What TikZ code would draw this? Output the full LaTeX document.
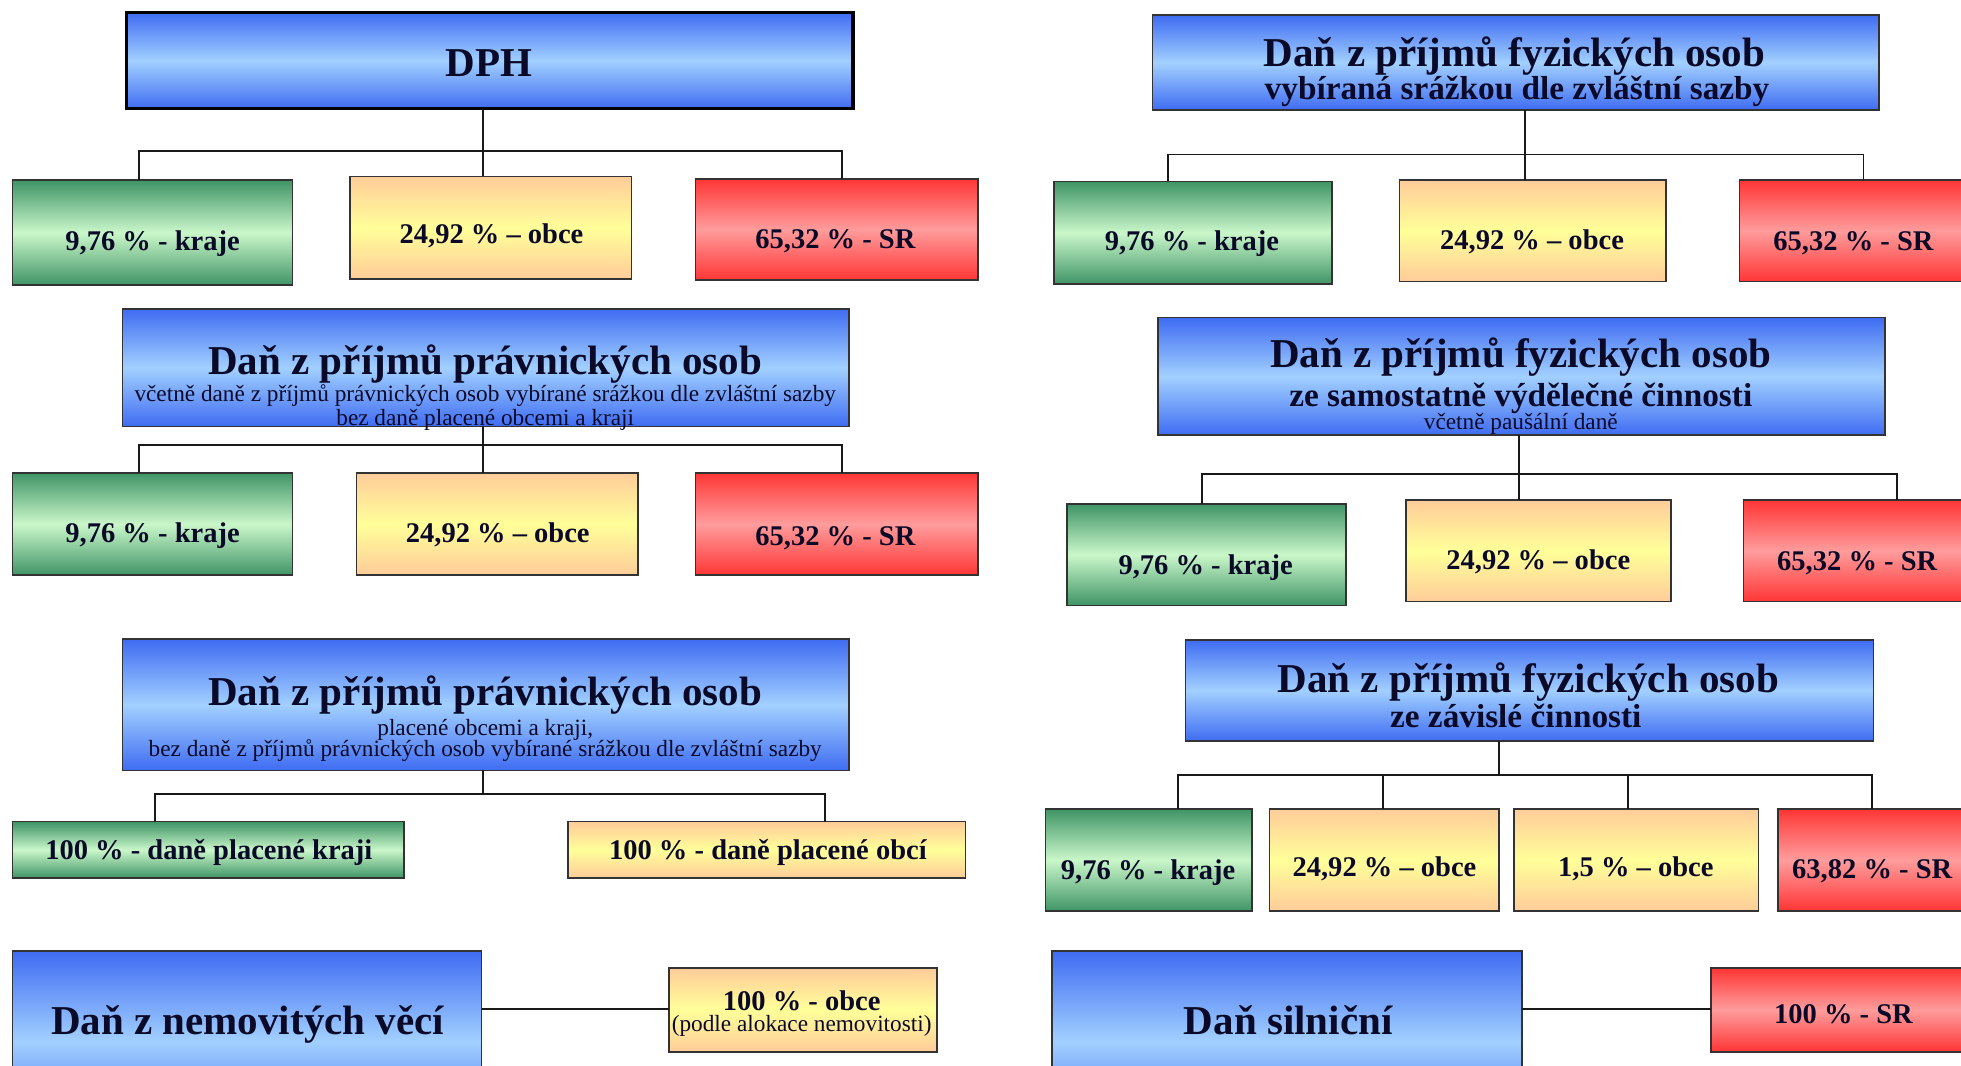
\documentclass[tikz,border=0pt]{standalone}
\usepackage{fontspec}
\setmainfont{Liberation Serif}
\definecolor{bTop}{HTML}{3F6CF2}
\definecolor{bMid}{HTML}{A2D0FF}
\definecolor{gTop}{HTML}{3F9466}
\definecolor{gMid}{HTML}{CAF7CA}
\definecolor{oTop}{HTML}{FFCC99}
\definecolor{oMid}{HTML}{FFFF99}
\definecolor{rTop}{HTML}{FF3535}
\definecolor{rMid}{HTML}{FF9C9C}
\definecolor{ink}{HTML}{0A0A28}
\newcommand\drawbox[6]{\node[#2, minimum width={(#5-#3)*1pt}, minimum height={(#6-#4)*1pt}] (#1) at ({(#3+#5)/2},{(#4+#6)/2}) {};}
\tikzset{
  box/.style={draw=black!80, line width=1.3pt, inner sep=0pt, outer sep=0pt},
  bluebox/.style={box, top color=bTop, bottom color=bTop, middle color=bMid},
  greenbox/.style={box, top color=gTop, bottom color=gTop, middle color=gMid},
  orangebox/.style={box, top color=oTop, bottom color=oTop, middle color=oMid},
  redbox/.style={box, top color=rTop, bottom color=rTop, middle color=rMid},
  conn/.style={draw=black!90, line width=1.5pt},
  txt/.style={inner sep=0pt, outer sep=0pt, text=ink, text depth=0pt},
  title/.style={txt, font=\fontsize{32.8}{36}\selectfont\bfseries, text height=21.6pt},
  sub/.style={txt, font=\fontsize{26.6}{30}\selectfont\bfseries, text height=17.5pt},
  small/.style={txt, font=\fontsize{18.6}{21}\selectfont, text height=12.3pt},
  child/.style={txt, font=\fontsize{22.8}{26}\selectfont\bfseries, text height=15pt},
}
\begin{document}
\begin{tikzpicture}[x=1pt, y=-1pt]
\useasboundingbox (0,0) rectangle (1568,852);
\fill[white] (0,0) rectangle (1568,852);
\clip (0,0) rectangle (1568,852);

% ---------- Left 1: DPH ----------
\drawbox{dph}{bluebox, draw=black, line width=2.6pt}{101}{10}{682}{87}
\node[title] (dpht) at (391,50) {DPH};
\drawbox{L1g}{greenbox}{10}{144}{234}{228}
\drawbox{L1o}{orangebox}{280}{141}{505}{223}
\drawbox{L1r}{redbox}{556}{143}{782}{224}
\node[child] (L1gt) at (122,193) {9,76 \% - kraje};
\node[child] (L1ot) at (393,187) {24,92 \% – obce};
\node[child] (L1rt) at (668,191) {65,32 \% - SR};
\coordinate (L1t) at (386,121); \coordinate (L1a) at (111,121); \coordinate (L1b) at (673,121);
\draw[conn] (L1t |- dph.south) -- (L1t |- L1o.north);
\draw[conn] (L1a |- L1g.north) -- (L1a) -- (L1b) -- (L1b |- L1r.north);

% ---------- Left 2: DPPO ----------
\drawbox{ppo}{bluebox}{98}{247}{679}{341}
\node[title] (ppot1) at (388,289) {Daň z příjmů právnických osob};
\node[small] (ppot2) at (388,315) {včetně daně z příjmů právnických osob vybírané srážkou dle zvláštní sazby};
\node[small] (ppot3) at (388,334) {bez daně placené obcemi a kraji};
\drawbox{L2g}{greenbox}{10}{378}{234}{460}
\drawbox{L2o}{orangebox}{285}{378}{510}{460}
\drawbox{L2r}{redbox}{556}{378}{782}{460}
\node[child] (L2gt) at (122,426) {9,76 \% - kraje};
\node[child] (L2ot) at (398,426) {24,92 \% – obce};
\node[child] (L2rt) at (668,429) {65,32 \% - SR};
\coordinate (L2t) at (386,356); \coordinate (L2a) at (111,356); \coordinate (L2b) at (673,356);
\draw[conn] (L2t |- ppo.south) -- (L2t |- L2o.north);
\draw[conn] (L2a |- L2g.north) -- (L2a) -- (L2b) -- (L2b |- L2r.north);

% ---------- Left 3: DPPO placene obcemi a kraji ----------
\drawbox{ppk}{bluebox}{98}{511}{679}{616}
\node[title] (ppkt1) at (388,553) {Daň z příjmů právnických osob};
\node[small] (ppkt2) at (388,581.6) {placené obcemi a kraji,};
\node[small] (ppkt3) at (388,598.6) {bez daně z příjmů právnických osob vybírané srážkou dle zvláštní sazby};
\drawbox{L3g}{greenbox}{10}{657}{323}{702}
\drawbox{L3o}{orangebox}{454}{657}{772}{702}
\node[child] (L3gt) at (167,680) {100 \% - daně placené kraji};
\node[child] (L3ot) at (614,680) {100 \% - daně placené obcí};
\coordinate (L3t) at (386,635); \coordinate (L3a) at (124,635); \coordinate (L3b) at (660,635);
\draw[conn] (L3t |- ppk.south) -- (L3t);
\draw[conn] (L3a |- L3g.north) -- (L3a) -- (L3b) -- (L3b |- L3o.north);

% ---------- Left 4: nemovitosti ----------
\drawbox{nem}{bluebox}{10}{760.5}{385}{905}
\node[title] (nemt) at (198,816) {Daň z nemovitých věcí};
\drawbox{L4o}{orangebox}{535}{774}{749}{841}
\node[child] (L4ot1) at (641,800.5) {100 \% - obce};
\node[small] (L4ot2) at (641,819) {(podle alokace nemovitosti)};
\coordinate (L4y) at (0,807);
\draw[conn] (L4y -| nem.east) -- (L4y -| L4o.west);

% ---------- Right 1: DPFO srazkou ----------
\drawbox{fo1}{bluebox}{921.6}{12}{1502.4}{88}
\node[title] (fo1t1) at (1211,42.7) {Daň z příjmů fyzických osob};
\node[sub] (fo1t2) at (1213,70.7) {vybíraná srážkou dle zvláštní sazby};
\drawbox{R1g}{greenbox}{843}{145}{1065}{227}
\drawbox{R1o}{orangebox}{1119}{144}{1332}{225}
\drawbox{R1r}{redbox}{1391}{144}{1620}{225}
\node[child] (R1gt) at (953,193) {9,76 \% - kraje};
\node[child] (R1ot) at (1225,192) {24,92 \% – obce};
\node[child] (R1rt) at (1482,193) {65,32 \% - SR};
\coordinate (R1t) at (1219.5,123.5); \coordinate (R1a) at (934,123.5); \coordinate (R1b) at (1490,123.5);
\draw[conn] (R1t |- fo1.south) -- (R1t |- R1o.north);
\draw[conn] (R1a |- R1g.north) -- (R1a) -- (R1b) -- (R1b |- R1r.north);

% ---------- Right 2: DPFO SVC ----------
\drawbox{fo2}{bluebox}{926}{254}{1507}{348}
\node[title] (fo2t1) at (1216,282.7) {Daň z příjmů fyzických osob};
\node[sub] (fo2t2) at (1216,316) {ze samostatně výdělečné činnosti};
\node[small] (fo2t3) at (1216,337) {včetně paušální daně};
\drawbox{R2g}{greenbox}{853}{403}{1076}{484}
\drawbox{R2o}{orangebox}{1124}{400}{1336}{481}
\drawbox{R2r}{redbox}{1394}{400}{1620}{481}
\node[child] (R2gt) at (964,452) {9,76 \% - kraje};
\node[child] (R2ot) at (1230,448) {24,92 \% – obce};
\node[child] (R2rt) at (1485,449) {65,32 \% - SR};
\coordinate (R2t) at (1214.4,378.7); \coordinate (R2a) at (961,378.7); \coordinate (R2b) at (1517,378.7);
\draw[conn] (R2t |- fo2.south) -- (R2t |- R2o.north);
\draw[conn] (R2a |- R2g.north) -- (R2a) -- (R2b) -- (R2b |- R2r.north);

% ---------- Right 3: DPFO zavisla cinnost ----------
\drawbox{fo3}{bluebox}{948}{511.5}{1498}{592.5}
\node[title] (fo3t1) at (1222,542.7) {Daň z příjmů fyzických osob};
\node[sub] (fo3t2) at (1212,573) {ze závislé činnosti};
\drawbox{R3g}{greenbox}{836}{646.7}{1001}{728.5}
\drawbox{R3o}{orangebox}{1015}{646.7}{1198.6}{728.5}
\drawbox{R3p}{orangebox}{1210.6}{646.7}{1406}{728.5}
\drawbox{R3r}{redbox}{1421.7}{646.7}{1620}{728.5}
\node[child] (R3gt) at (918,696) {9,76 \% - kraje};
\node[child] (R3ot) at (1107,693) {24,92 \% – obce};
\node[child] (R3pt) at (1308,693) {1,5 \% – obce};
\node[child] (R3rt) at (1497,694.6) {63,82 \% - SR};
\coordinate (R3t) at (1198.6,620); \coordinate (R3a) at (941.7,620); \coordinate (R3b) at (1106,620);
\coordinate (R3c) at (1301.8,620); \coordinate (R3d) at (1496.7,620);
\draw[conn] (R3t |- fo3.south) -- (R3t);
\draw[conn] (R3a |- R3g.north) -- (R3a) -- (R3d) -- (R3d |- R3r.north);
\draw[conn] (R3b) -- (R3b |- R3o.north);
\draw[conn] (R3c) -- (R3c |- R3p.north);

% ---------- Right 4: silnicni ----------
\drawbox{sil}{bluebox}{841}{760.5}{1217}{905}
\node[title] (silt) at (1030,816) {Daň silniční};
\drawbox{R4r}{redbox}{1368}{774}{1620}{841}
\node[child] (R4rt) at (1474,811) {100 \% - SR};
\coordinate (R4y) at (0,807);
\draw[conn] (R4y -| sil.east) -- (R4y -| R4r.west);
\end{tikzpicture}
\end{document}
